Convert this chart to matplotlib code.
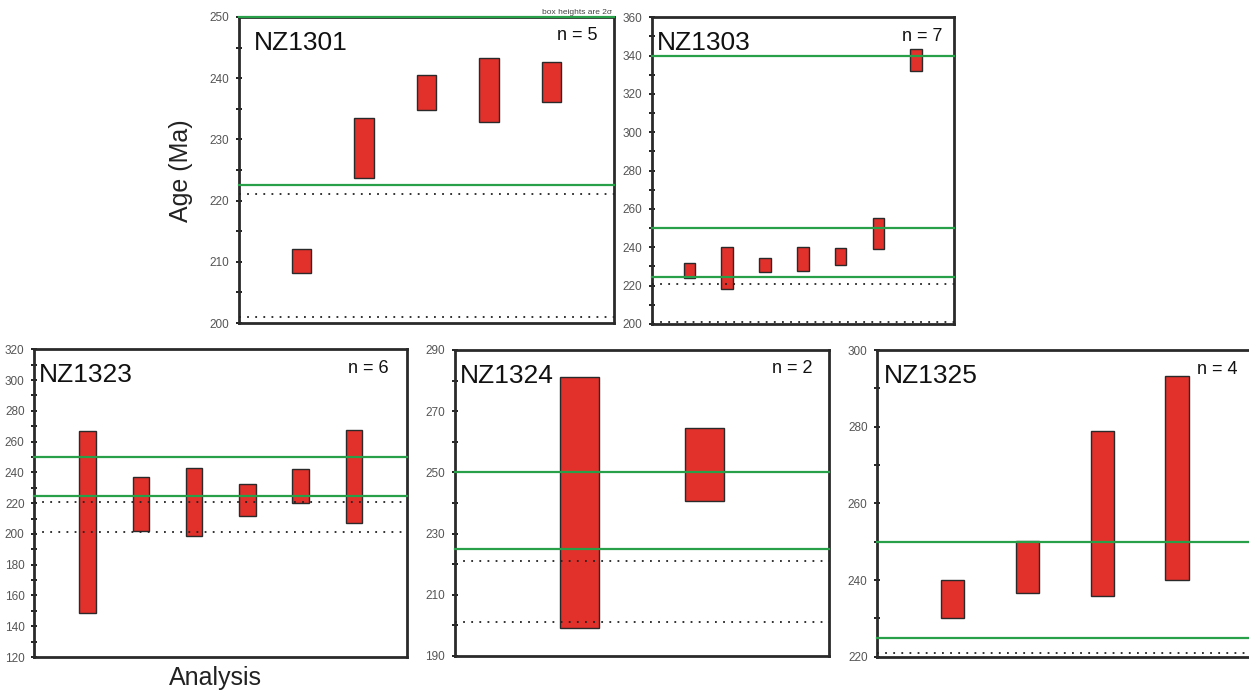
import matplotlib.pyplot as plt
from matplotlib.patches import Rectangle
from matplotlib.ticker import MultipleLocator
import numpy as np

plt.rcParams['font.family'] = ['Liberation Sans', 'DejaVu Sans']

# zircon ages per sample (Ma) and 1 sigma; boxes span age +/- sigma
samples = ['NZ1301', 'NZ1303', 'NZ1323', 'NZ1324', 'NZ1325']

ages_1301 = [210.1, 228.6, 237.7, 238.1, 239.4]
sig_1301 = [2.0, 4.9, 2.9, 5.2, 3.3]

ages_1303 = [227.9, 229.3, 230.8, 234.0, 235.0, 247.1, 337.7]
sig_1303 = [4.1, 10.8, 3.6, 6.2, 4.4, 8.1, 5.8]

ages_1323 = [207.9, 219.2, 220.8, 222.2, 231.4, 237.5]
sig_1323 = [59.1, 17.5, 22.3, 10.3, 11.1, 30.3]

ages_1324 = [240.3, 252.7]
sig_1324 = [41.0, 11.9]

ages_1325 = [235.0, 243.4, 257.4, 266.7]
sig_1325 = [5.0, 6.8, 21.5, 26.6]

# reference ages: green = solid lines, dotted = black dotted lines
green_1301 = [250, 222.5]
green_other = [340, 250, 224.7]
green_std = [250, 224.8]
dotted = [221.0, 201.0]

ylims = [(200, 250), (200, 360), (120, 320), (190, 290), (220, 300)]
yticks = [np.arange(200, 251, 10), np.arange(200, 361, 20), np.arange(120, 321, 20),
          np.arange(190, 291, 20), np.arange(220, 301, 20)]
minor = [5, 10, 10, 10, 10]

fig = plt.figure(figsize=(12.49, 6.93), dpi=100)
rects = [[0.1914, 0.5339, 0.3002, 0.4416],
         [0.5218, 0.5325, 0.2420, 0.4425],
         [0.0275, 0.0519, 0.2984, 0.4441],
         [0.3643, 0.0534, 0.2994, 0.4416],
         [0.7024, 0.0524, 0.3000, 0.4425]]

data = [(ages_1301, sig_1301, green_1301), (ages_1303, sig_1303, green_other),
        (ages_1323, sig_1323, green_std), (ages_1324, sig_1324, green_std),
        (ages_1325, sig_1325, green_std)]
title_dx = [15, 5, 5, 5, 7]
n_dx = [17, 12, 18, 16, 14]

for i, (ages, sig, greens) in enumerate(data):
    ax = fig.add_axes(rects[i])
    n = len(ages)
    ax.set_xlim(0, n + 1)
    ax.set_ylim(*ylims[i])
    for x, a, s in zip(range(1, n + 1), ages, sig):
        ax.add_patch(Rectangle((x - 0.155, a - s), 0.31, 2 * s, facecolor='#e2302a',
                               edgecolor='#2a2a2a', linewidth=1.0, zorder=2))
    for g in greens:
        ax.axhline(g, color='#27a049', linewidth=1.6, zorder=3, clip_on=False)
    for d in dotted:
        if ylims[i][0] < d:
            ax.axhline(d, color='#222222', linewidth=1.3, linestyle=(0, (1, 3.5)), zorder=3)
    ax.set_xticks([])
    ax.set_yticks(yticks[i])
    ax.yaxis.set_minor_locator(MultipleLocator(minor[i]))
    ax.tick_params(axis='y', which='both', direction='inout', length=4, width=1.4,
                   color='#222222', labelsize=8.5, labelcolor='#555555', pad=5)
    for sp in ax.spines.values():
        sp.set_linewidth(2.0)
        sp.set_color('#2a2a2a')
    ax.annotate(samples[i], xy=(0, 1), xycoords='axes fraction',
                xytext=(title_dx[i] * 0.72, -26 * 0.72), textcoords='offset points',
                ha='left', va='center', fontsize=19, color='#111111')
    ax.annotate('n = %d' % n, xy=(1, 1), xycoords='axes fraction',
                xytext=(-n_dx[i] * 0.72, -19 * 0.72), textcoords='offset points',
                ha='right', va='center', fontsize=13, color='#111111')

fig.text(181 / 1249, 1 - 171 / 693, 'Age (Ma)', rotation=90, ha='center', va='center',
         fontsize=18, color='#222222')
fig.text(215 / 1249, 1 - 678 / 693, 'Analysis', ha='center', va='center',
         fontsize=18, color='#222222')
fig.text(612 / 1249, 1 - 12 / 693, 'box heights are 2\u03c3', ha='right', va='center',
         fontsize=6, color='#444444')

fig.savefig('out.png', dpi=100)
